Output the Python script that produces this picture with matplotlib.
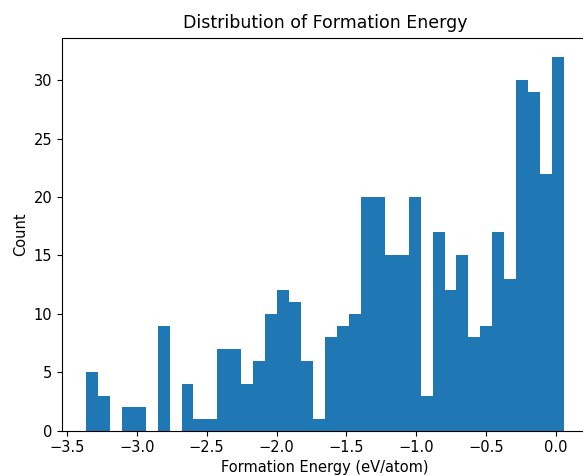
import numpy as np
import matplotlib
matplotlib.use("Agg")
import matplotlib.pyplot as plt

# Histogram counts per bin (40 equal-width bins)
counts = [5, 3, 0, 2, 2, 0, 9, 0, 4, 1,
          1, 7, 7, 4, 6, 10, 12, 11, 6, 1,
          8, 9, 10, 20, 20, 15, 15, 20, 3, 17,
          12, 15, 8, 9, 17, 13, 30, 29, 22, 32]
e_min = -3.364
e_max = 0.057
n_bins = 40

edges = np.linspace(e_min, e_max, n_bins + 1)
centers = (edges[:-1] + edges[1:]) / 2

fig = plt.figure(figsize=(5.83, 4.75), dpi=100)
ax = fig.add_axes([62/583, (475-430.7)/475, 526/583, (430.7-38)/475])
ax.hist(centers, bins=edges, weights=counts, color='#1f77b4')
ax.set_title('Distribution of Formation Energy', fontsize=12.5, pad=7.5)
ax.set_xlabel('Formation Energy (eV/atom)', fontsize=10.5, labelpad=3)
ax.set_ylabel('Count', fontsize=10.5)
ax.tick_params(labelsize=10.5)
fig.savefig('out.png', dpi=100)
